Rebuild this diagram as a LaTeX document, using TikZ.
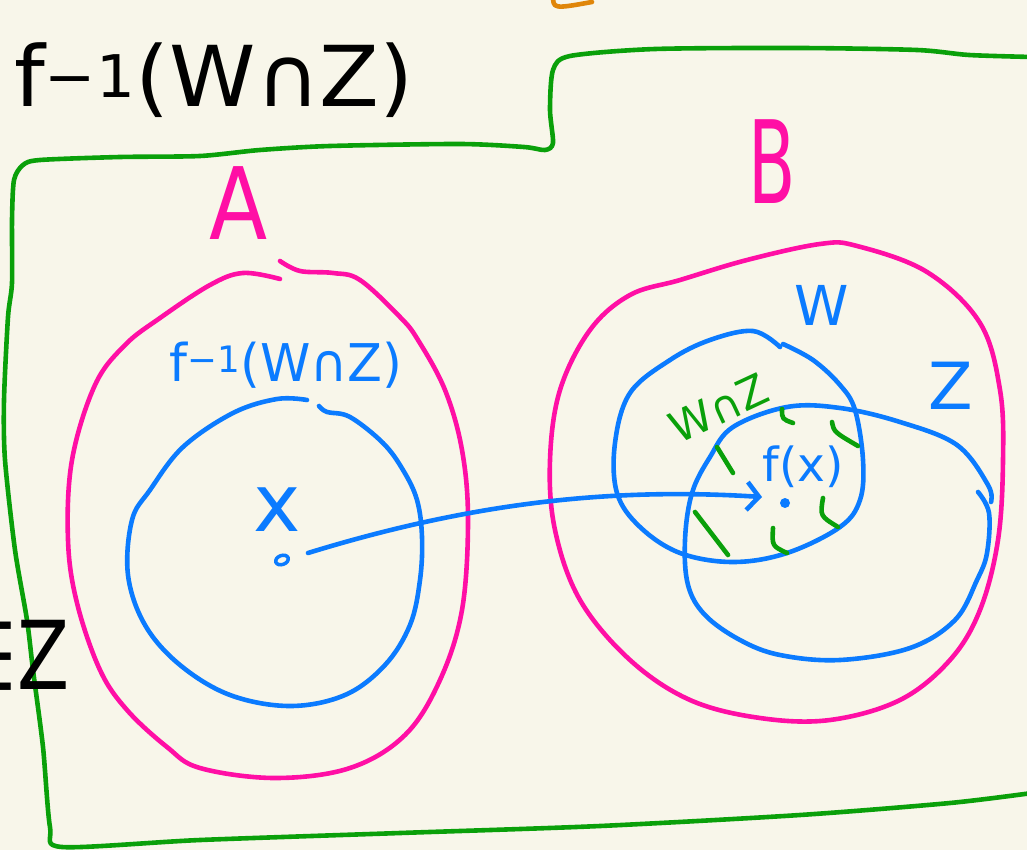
\documentclass[tikz,border=0pt]{standalone}
\usepackage{fontspec}
\setmainfont{DejaVu Sans}
\usetikzlibrary{arrows.meta,shapes.geometric}
\definecolor{skpaper}{HTML}{F8F6EA}
\definecolor{skpink}{HTML}{FF0FA5}
\definecolor{skblue}{HTML}{0B7BFF}
\definecolor{skgreen}{HTML}{0AA00A}
\definecolor{skorange}{HTML}{E0860A}
\newcommand{\handsize}[1]{\fontsize{#1}{#1}\selectfont}

\begin{document}
\begin{tikzpicture}[x=1pt,y=-1pt,
  pen/.style={line width=4.6pt,line cap=round,line join=round},
  lab/.style={inner sep=0pt,font=\handsize{#1}}]
  % page
  \fill[skpaper] (0,0) rectangle (1027,850);
  \useasboundingbox (0,0) rectangle (1027,850);
  % orange scrap at top
  \draw[pen,skorange] (553,-5) .. controls (553,9) .. (592,2);
  % green region
  \draw[pen,skgreen] plot[smooth,tension=0.45] coordinates {
    (1032,57) (969,55) (917,50) (800,48) (655,49) (570,56) (553,70) (550,110)
    (553,143) (545,150) (524,147) (460,144) (330,146) (260,150) (200,156)
    (120,157) (40,160) (23,165) (14,180) (12,220) (12,283) (8,317) (4,400)
    (5,460) (15,550) (27,620) (33,670) (43,747) (50,827) (62,847) (200,840)
    (400,833) (600,826) (800,815) (950,803) (1032,793)};
  % sets A and B
  \draw[pen,skpink] plot[smooth,tension=0.6] coordinates {
    (280,261) (300,271) (333,273) (360,280) (400,317) (418,340) (445,390)
    (462,450) (468,520) (462,610) (440,680) (405,735) (350,768) (275,778)
    (200,768) (167,747) (127,710) (100,670) (77,603) (68,540) (72,460)
    (95,385) (125,345) (160,318) (210,285) (243,273) (280,279)};
  \draw[pen,skpink] plot[smooth cycle,tension=0.6] coordinates {
    (857,246) (927,272) (980,323) (1000,390) (1003,460) (998,540) (980,610)
    (950,660) (900,700) (830,720) (760,718) (690,700) (630,660) (580,600)
    (555,530) (550,460) (560,390) (590,330) (630,295) (680,280) (747,260)
    (820,244)};
  % blue sets
  \draw[pen,skblue] plot[smooth,tension=0.6] coordinates {
    (319,406) (327,412) (350,417) (383,443) (403,470) (417,500) (422,537)
    (420,580) (410,625) (385,665) (345,695) (290,706) (230,695) (180,665)
    (145,625) (128,575) (132,520) (150,490) (183,447) (233,413) (277,399)
    (307,400)};
  \draw[pen,skblue] plot[smooth,tension=0.6] coordinates {
    (783,344) (813,360) (840,385) (855,410) (863,460) (860,500) (840,527)
    (787,553) (733,562) (680,553) (640,527) (617,493) (615,443) (630,393)
    (670,360) (710,340) (753,331) (780,347)};
  \draw[pen,skblue] plot[smooth,tension=0.6] coordinates {
    (978,492) (989,513) (987,553) (977,580) (955,620) (910,648) (840,660)
    (780,655) (740,640) (705,615) (688,585) (685,540) (692,493) (710,457)
    (733,427) (787,407) (840,408) (900,422) (957,445) (988,485) (991,502)};
  % hatching of W n Z
  \foreach \ax/\ay/\bx/\by/\cx/\cy in {717/447/725/460/733/473,
      782/409/782/419/793/423, 832/422/834/432/858/446,
      695/512/711/533/728/555, 773/528/772/546/787/553,
      823/498/820/516/838/527}
    \draw[pen,skgreen] (\ax,\ay) .. controls (\bx,\by) .. (\cx,\cy);
  % labels
  \node[lab=84,xscale=1.04] (title) at (214,80) {f\textsuperscript{−1}(W∩Z)};
  \node[lab=95,anchor=east,xscale=0.8] (inZ) at (70,655) {∈Z};
  \node[lab=100,skpink,xscale=0.85] (labA) at (239,203) {A};
  \node[lab=115,skpink,xscale=0.6] (labB) at (772,162) {B};
  \node[lab=52,skblue,xscale=0.98] (labpre) at (286,365) {f\textsuperscript{−1}(W∩Z)};
  \node[lab=55,skblue] (labW) at (822,305) {W};
  \node[lab=65,skblue] (labZ) at (951,386) {Z};
  \node[lab=43,skgreen,rotate=25] (labWZ) at (719,408) {W∩Z};
  \node[lab=80,skblue] (labx) at (277,510) {x};
  \node[lab=47,skblue] (labfx) at (803,467) {f(x)};
  % points and the map
  \node[draw=skblue,line width=3.5pt,ellipse,minimum width=13pt,minimum height=9pt,
    inner sep=0pt,rotate=20] (xpt) at (282,560) {};
  \node[fill=skblue,circle,minimum size=10pt,inner sep=0pt] (fxpt) at (785,503) {};
  \coordinate (xtail) at (308,553);
  \coordinate (fxhead) at (762,497);
  \draw[pen,skblue,-{Straight Barb[length=12pt,width=28pt]}]
    (xtail) .. controls (480,500) and (620,488) .. (fxhead);
\end{tikzpicture}
\end{document}
